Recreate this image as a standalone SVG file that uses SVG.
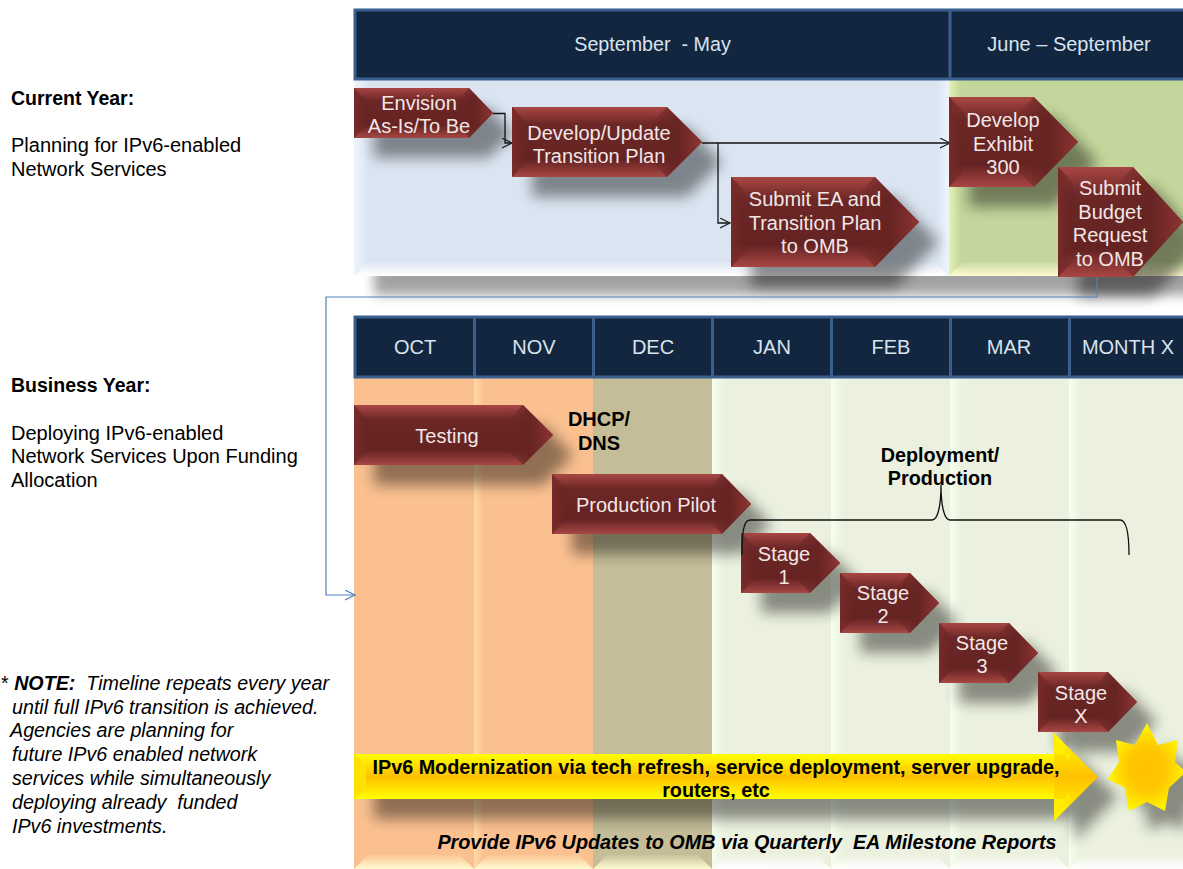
<svg xmlns="http://www.w3.org/2000/svg" width="1183" height="869" viewBox="0 0 1183 869">
<style>
text{font-family:"Liberation Sans",Arial,sans-serif;white-space:pre}
.h{fill:#d9e3ee;font-size:20px;text-anchor:middle}
.n{fill:#f2e6e6;font-size:20px;text-anchor:middle}
.b{fill:#000;font-size:19.8px;font-weight:bold;text-anchor:middle}
.s{fill:#000;font-size:20px}
.sb{fill:#000;font-size:19.5px;font-weight:bold}
.i{fill:#000;font-size:19.7px;font-style:italic}
.hd{fill:#12263f;stroke:#3a5f8f;stroke-width:3}
.c{fill:none;stroke:#111;stroke-width:1.3}
.bl{fill:none;stroke:#4f81bd;stroke-width:1.2}
.p{fill:url(#red)}
.l{fill:url(#leftF)}
.t{fill:url(#tipF)}
</style>
<defs>
<linearGradient id="red" x1="0" y1="0" x2="0" y2="1">
<stop offset="0" stop-color="#a84744"/><stop offset=".25" stop-color="#6c2726"/><stop offset=".75" stop-color="#642322"/><stop offset="1" stop-color="#a84744"/>
</linearGradient>
<linearGradient id="leftF" x1="0" y1="0" x2="1" y2="0"><stop offset="0" stop-color="#782a29"/><stop offset="1" stop-color="#662423" stop-opacity=".3"/></linearGradient>
<linearGradient id="tipF" x1="0" y1="0" x2="1" y2="0"><stop offset="0" stop-color="#662423" stop-opacity=".2"/><stop offset=".5" stop-color="#662423" stop-opacity=".9"/><stop offset="1" stop-color="#8e3533"/></linearGradient>
<linearGradient id="yel" x1="0" y1="0" x2="0" y2="1">
<stop offset="0" stop-color="#ffff00"/><stop offset=".5" stop-color="#ffc000"/><stop offset="1" stop-color="#ffff00"/>
</linearGradient>
<radialGradient id="starF" cx=".5" cy=".52" r=".55"><stop offset="0" stop-color="#ffc000"/><stop offset=".45" stop-color="#ffc800"/><stop offset="1" stop-color="#ffff00"/></radialGradient>
<filter id="sh" x="-5%" y="-5%" width="110%" height="110%"><feGaussianBlur stdDeviation="7"/></filter>
<filter id="sh2" x="-5%" y="-60%" width="110%" height="220%"><feGaussianBlur stdDeviation="6"/></filter>
<marker id="ak" markerWidth="12" markerHeight="12" refX="10" refY="5" orient="auto" markerUnits="userSpaceOnUse"><path d="M0 0L10 5L0 10" fill="none" stroke="#222" stroke-width="1.2"/></marker>
<marker id="ab" markerWidth="12" markerHeight="12" refX="10" refY="5" orient="auto" markerUnits="userSpaceOnUse"><path d="M0 0L10 5L0 10" fill="none" stroke="#4f81bd" stroke-width="1.2"/></marker>
<linearGradient id="bandO" x1="0" y1="0" x2="1" y2="0"><stop offset="0" stop-color="#ffdca8" stop-opacity=".9"/><stop offset="1" stop-color="#ffdca8" stop-opacity="0"/></linearGradient>
<linearGradient id="bandG" x1="0" y1="0" x2="1" y2="0"><stop offset="0" stop-color="#f6ffee"/><stop offset="1" stop-color="#f6ffee" stop-opacity="0"/></linearGradient>
<linearGradient id="bandB" x1="0" y1="0" x2="1" y2="0"><stop offset="0" stop-color="#eef5ff"/><stop offset="1" stop-color="#eef5ff" stop-opacity="0"/></linearGradient>
<linearGradient id="bandY" x1="0" y1="0" x2="1" y2="0"><stop offset="0" stop-color="#e6f2b4"/><stop offset="1" stop-color="#e6f2b4" stop-opacity="0"/></linearGradient>
<linearGradient id="fadeW" x1="0" y1="0" x2="0" y2="1"><stop offset="0" stop-color="#fff" stop-opacity=".1"/><stop offset="1" stop-color="#fff"/></linearGradient>
<linearGradient id="fadeY" x1="0" y1="0" x2="0" y2="1"><stop offset="0" stop-color="#fffbd0" stop-opacity=".1"/><stop offset="1" stop-color="#fffbd0"/></linearGradient>
</defs>
<rect width="1183" height="869" fill="#fff"/>

<g id="panel-shade"><rect x="374" y="262" width="840" height="33" fill="#000" opacity=".36" filter="url(#sh2)"/></g>
<g id="panels">
<rect x="354" y="80" width="595" height="196" fill="#dbe5f1"/>
<rect x="949" y="80" width="234" height="196" fill="#c3d69b"/>
<rect x="354" y="80" width="14" height="196" fill="url(#bandB)"/>
<rect x="937" y="80" width="12" height="196" fill="url(#bandB)" transform="rotate(180 943 178)"/>
<rect x="949" y="80" width="12" height="196" fill="url(#bandY)"/>
<polygon points="354,276 368,262 935,262 949,276" fill="url(#fadeW)"/>
<polygon points="949,276 963,262 1183,262 1183,276" fill="url(#fadeY)"/>
<rect x="354" y="378" width="239" height="491" fill="#fac090"/>
<rect x="593" y="378" width="119" height="491" fill="#c4bd97"/>
<rect x="712" y="378" width="471" height="491" fill="#ebf1de"/>
<rect x="474" y="378" width="10" height="491" fill="url(#bandO)"/>
<rect x="712" y="378" width="12" height="491" fill="url(#bandG)"/>
<rect x="831" y="378" width="12" height="491" fill="url(#bandG)"/>
<rect x="950" y="378" width="12" height="491" fill="url(#bandG)"/>
<rect x="1069" y="378" width="12" height="491" fill="url(#bandG)"/>
<polygon points="354,869 368,855 460,855 474,869" fill="url(#fadeY)"/>
<polygon points="474,869 488,855 579,855 593,869" fill="url(#fadeY)"/>
<polygon points="593,869 607,855 698,855 712,869" fill="url(#fadeY)"/>
<polygon points="712,869 726,855 817,855 831,869" fill="url(#fadeW)"/>
<polygon points="831,869 845,855 936,855 950,869" fill="url(#fadeW)"/>
<polygon points="950,869 964,855 1055,855 1069,869" fill="url(#fadeW)"/>
<polygon points="1069,869 1083,855 1183,855 1183,869" fill="url(#fadeW)"/>
</g>

<g id="header-current">
<rect class="hd" x="355" y="10" width="830" height="69"/>
<line x1="950" y1="10" x2="950" y2="79" stroke="#3a5f8f" stroke-width="3"/>
<text class="h" x="652.500" y="51" style="font-size:19.7px">September  - May</text>
<text class="h" x="1069" y="51">June – September</text>
</g>
<g id="header-business">
<rect class="hd" x="355" y="317" width="830" height="60"/>
<g stroke="#3a5f8f" stroke-width="3">
<line x1="474.500" y1="317" x2="474.500" y2="377"/><line x1="593.500" y1="317" x2="593.500" y2="377"/><line x1="712.500" y1="317" x2="712.500" y2="377"/><line x1="831.500" y1="317" x2="831.500" y2="377"/><line x1="950.500" y1="317" x2="950.500" y2="377"/><line x1="1069.500" y1="317" x2="1069.500" y2="377"/>
</g>
<text class="h" x="415" y="354">OCT</text>
<text class="h" x="534" y="354">NOV</text>
<text class="h" x="653" y="354">DEC</text>
<text class="h" x="772" y="354">JAN</text>
<text class="h" x="891" y="354">FEB</text>
<text class="h" x="1009" y="354">MAR</text>
<text class="h" x="1128" y="354">MONTH X</text>
</g>

<g id="shadows" filter="url(#sh)" fill="#000" opacity=".42">
<polygon points="374,108 489,108 513,133 489,158 374,158"/>
<polygon points="532,127 687,127 722,162 687,197 532,197"/>
<polygon points="751,197 895,197 939,242 895,287 751,287"/>
<polygon points="969,117 1054,117 1098,162 1054,207 969,207"/>
<polygon points="1078,187 1153,187 1203,242 1153,297 1078,297"/>
<polygon points="374,425 543,425 573,455 543,485 374,485"/>
<polygon points="572,494 742,494 771,524 742,554 572,554"/>
<polygon points="761,553 830,553 860,583 830,613 761,613"/>
<polygon points="860,593 930,593 959,623 930,653 860,653"/>
<polygon points="959,643 1029,643 1058,673 1029,703 959,703"/>
<polygon points="1058,692 1128,692 1157,722 1128,752 1058,752"/>
<polygon points="374,774 1074,774 1074,753 1118,797 1074,841 1074,819 374,819"/>
<polygon points="1167,743 1178,765 1198,760 1206,792 1189,808 1185,831 1167,822 1149,831 1145,808 1128,799 1139,782 1136,760 1158,765"/>
</g>

<g id="connectors">
<path class="c" d="M493 113.500H505V143H512" marker-end="url(#ak)"/>
<path class="c" d="M702 143H950" marker-end="url(#ak)"/>
<path class="c" d="M718 143V223H730" marker-end="url(#ak)"/>
<path class="bl" d="M1097 277V297H326V595H355" marker-end="url(#ab)"/>
</g>

<g id="n-envision"><polygon class="p" points="354,88 469,88 493,113 469,138 354,138"/><polygon class="l" points="354,88 367,101 367,125 354,138"/><polygon class="t" points="469,88 493,113 469,138 457,125 457,101"/>
<text class="n" x="419" y="110">Envision</text><text class="n" x="419" y="133">As-Is/To Be</text></g>
<g id="n-develop"><polygon class="p" points="512,107 667,107 702,142 667,177 512,177"/><polygon class="l" points="512,107 527,122 527,162 512,177"/><polygon class="t" points="667,107 702,142 667,177 652,162 652,122"/>
<text class="n" x="599" y="140">Develop/Update</text><text class="n" x="599" y="163">Transition Plan</text></g>
<g id="n-submit-ea"><polygon class="p" points="731,177 875,177 919,222 875,267 731,267"/><polygon class="l" points="731,177 746,192 746,252 731,267"/><polygon class="t" points="875,177 919,222 875,267 860,252 860,192"/>
<text class="n" x="815" y="206">Submit EA and</text><text class="n" x="815" y="230">Transition Plan</text><text class="n" x="815" y="253">to OMB</text></g>
<g id="n-exhibit"><polygon class="p" points="949,97 1034,97 1078,142 1034,187 949,187"/><polygon class="l" points="949,97 964,112 964,172 949,187"/><polygon class="t" points="1034,97 1078,142 1034,187 1019,172 1019,112"/>
<text class="n" x="1003" y="127">Develop</text><text class="n" x="1003" y="151">Exhibit</text><text class="n" x="1003" y="174">300</text></g>
<g id="n-budget"><polygon class="p" points="1058,167 1133,167 1183,222 1133,277 1058,277"/><polygon class="l" points="1058,167 1073,182 1073,262 1058,277"/><polygon class="t" points="1133,167 1183,222 1133,277 1118,262 1118,182"/>
<text class="n" x="1110" y="195">Submit</text><text class="n" x="1110" y="219">Budget</text><text class="n" x="1110" y="242">Request</text><text class="n" x="1110" y="266">to OMB</text></g>
<g id="n-testing"><polygon class="p" points="354,405 523,405 553,435 523,465 354,465"/><polygon class="l" points="354,405 369,420 369,450 354,465"/><polygon class="t" points="523,405 553,435 523,465 508,450 508,420"/>
<text class="n" x="447" y="443">Testing</text></g>
<g id="n-pilot"><polygon class="p" points="552,474 722,474 751,504 722,534 552,534"/><polygon class="l" points="552,474 567,489 567,519 552,534"/><polygon class="t" points="722,474 751,504 722,534 707,519 707,489"/>
<text class="n" x="646" y="512">Production Pilot</text></g>
<g id="n-stage1"><polygon class="p" points="741,533 810,533 840,563 810,593 741,593"/><polygon class="l" points="741,533 756,548 756,578 741,593"/><polygon class="t" points="810,533 840,563 810,593 795,578 795,548"/>
<text class="n" x="784" y="561">Stage</text><text class="n" x="784" y="584">1</text></g>
<g id="n-stage2"><polygon class="p" points="840,573 910,573 939,603 910,633 840,633"/><polygon class="l" points="840,573 855,588 855,618 840,633"/><polygon class="t" points="910,573 939,603 910,633 895,618 895,588"/>
<text class="n" x="883" y="600">Stage</text><text class="n" x="883" y="623">2</text></g>
<g id="n-stage3"><polygon class="p" points="939,623 1009,623 1038,653 1009,683 939,683"/><polygon class="l" points="939,623 954,638 954,668 939,683"/><polygon class="t" points="1009,623 1038,653 1009,683 994,668 994,638"/>
<text class="n" x="982" y="650">Stage</text><text class="n" x="982" y="673">3</text></g>
<g id="n-stagex"><polygon class="p" points="1038,672 1108,672 1137,702 1108,732 1038,732"/><polygon class="l" points="1038,672 1053,687 1053,717 1038,732"/><polygon class="t" points="1108,672 1137,702 1108,732 1093,717 1093,687"/>
<text class="n" x="1081" y="700">Stage</text><text class="n" x="1081" y="723">X</text></g>

<g id="brace"><path class="c" d="M742 555C742 535 743 520 750 520H932C938 520 941 505 941 485C941 505 944 520 950 520H1120C1127 520 1129 535 1129 555"/></g>

<g id="n-modernization">
<polygon points="354,754 1054,754 1054,799 354,799" fill="url(#yel)"/>
<polygon points="354,754 366,766 366,787 354,799" fill="#ffe000"/>
<polygon points="1054,733 1098,777 1054,821" fill="url(#yel)"/>
<polygon points="1054,733 1069,762 1069,754 1054,754" fill="#ffee00"/>
<polygon points="1054,821 1069,792 1069,799 1054,799" fill="#ffee00"/>
<text class="b" x="716" y="774">IPv6 Modernization via tech refresh, service deployment, server upgrade,</text>
<text class="b" x="716" y="797">routers, etc</text>
</g>
<g id="n-star">
<polygon points="1147,723 1158,745 1178,740 1175,762 1186,772 1169,788 1165,811 1147,802 1129,811 1125,788 1108,779 1119,762 1116,740 1135,745" fill="url(#starF)"/>
</g>

<g id="labels">
<text class="b" x="599" y="426" style="font-size:20px">DHCP/</text><text class="b" x="599" y="450" style="font-size:20px">DNS</text>
<text class="b" x="940" y="462">Deployment/</text><text class="b" x="940" y="485">Production</text>
<text x="747" y="849" class="b" font-style="italic">Provide IPv6 Updates to OMB via Quarterly  EA Milestone Reports</text>
<text class="sb" x="11" y="105">Current Year:</text>
<text class="s" x="11" y="152">Planning for IPv6-enabled</text>
<text class="s" x="11" y="176">Network Services</text>
<text class="sb" x="11" y="392">Business Year:</text>
<text class="s" x="11" y="440">Deploying IPv6-enabled</text>
<text class="s" x="11" y="463">Network Services Upon Funding</text>
<text class="s" x="11" y="487">Allocation</text>
<text class="i" x="1" y="690"><tspan font-style="normal">* </tspan><tspan font-weight="bold">NOTE:</tspan>  Timeline repeats every year</text>
<text class="i" x="12" y="714">until full IPv6 transition is achieved.</text>
<text class="i" x="10" y="737">Agencies are planning for</text>
<text class="i" x="12" y="761">future IPv6 enabled network</text>
<text class="i" x="12" y="785">services while simultaneously</text>
<text class="i" x="12" y="809">deploying already  funded</text>
<text class="i" x="12" y="833">IPv6 investments.</text>
</g>
</svg>
